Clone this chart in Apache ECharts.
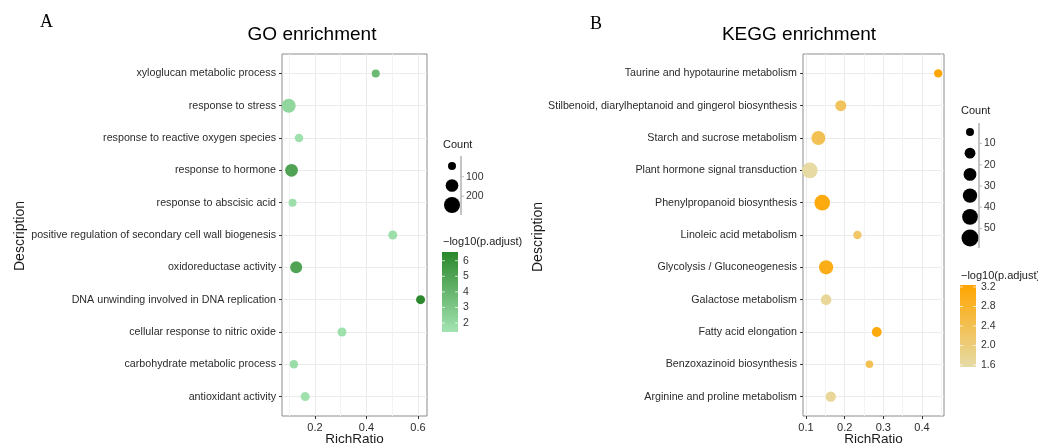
<!DOCTYPE html>
<html>
<head>
<meta charset="utf-8">
<script src="https://cdn.jsdelivr.net/npm/echarts@6/dist/echarts.min.js"></script>
<style>
html,body{margin:0;padding:0;background:#fff;}
#main{width:1038px;height:446px;}
</style>
</head>
<body>
<div id="main"></div>
<script>
// GO enrichment (top to bottom)
var goTerms = ['xyloglucan metabolic process','response to stress','response to reactive oxygen species',
  'response to hormone','response to abscisic acid','positive regulation of secondary cell wall biogenesis',
  'oxidoreductase activity','DNA unwinding involved in DNA replication','cellular response to nitric oxide',
  'carbohydrate metabolic process','antioxidant activity'];
var goRatio = [0.436, 0.098, 0.138, 0.109, 0.113, 0.502, 0.127, 0.610, 0.305, 0.118, 0.162];
var goCount = [50, 186, 58, 149, 50, 67, 131, 67, 67, 58, 67];
var goPadj = [3.8, 2.2, 1.6, 5.0, 1.7, 1.7, 5.0, 6.5, 1.6, 1.8, 1.6];
var goXTicks = [0.2, 0.4, 0.6];
var goXMinor = [0.1, 0.3, 0.5];
var goColorTicks = [2, 3, 4, 5, 6];
var goColorRange = [1.42, 6.56];
var goSizeBreaks = [100, 200];
var goSizeKeys = [50, 150, 250];

// KEGG enrichment (top to bottom)
var keggTerms = ['Taurine and hypotaurine metabolism','Stilbenoid, diarylheptanoid and gingerol biosynthesis',
  'Starch and sucrose metabolism','Plant hormone signal transduction','Phenylpropanoid biosynthesis',
  'Linoleic acid metabolism','Glycolysis / Gluconeogenesis','Galactose metabolism','Fatty acid elongation',
  'Benzoxazinoid biosynthesis','Arginine and proline metabolism'];
var keggRatio = [0.442, 0.190, 0.132, 0.110, 0.142, 0.233, 0.152, 0.152, 0.283, 0.264, 0.164];
var keggCount = [6, 16, 32, 44, 44, 6, 34, 14, 11, 4, 13];
var keggPadj = [3.2, 2.3, 2.4, 1.6, 3.1, 2.2, 3.0, 1.7, 3.1, 2.4, 1.7];
var keggXTicks = [0.1, 0.2, 0.3, 0.4];
var keggXMinor = [0.15, 0.25, 0.35, 0.45];
var keggColorTicks = [1.6, 2.0, 2.4, 2.8, 3.2];
var keggColorRange = [1.56, 3.24];
var keggSizeBreaks = [10, 20, 30, 40, 50];
var keggSizeKeys = [5, 15, 25, 35, 45, 55];

var idx = goTerms.map(function(t, i){ return i; });

var goLow = '#a3e4b2', goHigh = '#2a872a';
var keggLow = '#e6dba6', keggHigh = '#ffa500';
var font = 'Liberation Sans, Arial, sans-serif';

function goSize(c){ return 1.53 + 0.915 * Math.sqrt(c); }
function keggSize(c){ return 4.1 + 1.74 * Math.sqrt(c); }

var goData = goTerms.map(function(t, i){ return [goRatio[i], i, goPadj[i], goCount[i], t]; });
var keggData = keggTerms.map(function(t, i){ return [keggRatio[i], i, keggPadj[i], keggCount[i], t]; });

function yAxisOf(grid, terms){
  return {
    type: 'value', gridIndex: grid, min: -0.6, max: terms.length - 0.4, inverse: true,
    axisLine: {show: false, onZero: false},
    axisTick: {show: true, length: 3, customValues: idx, lineStyle: {color: '#333'}},
    axisLabel: {customValues: idx, margin: 6, fontSize: 10.7, color: '#2b2b2b', fontFamily: font,
      formatter: function(v){ return terms[Math.round(v)]; }},
    splitLine: {show: true, lineStyle: {color: '#ebebeb', width: 1}}
  };
}
function xMajor(grid, min, max, ticks){
  return {
    type: 'value', gridIndex: grid, min: min, max: max, position: 'bottom',
    axisLine: {show: false, onZero: false},
    axisTick: {show: true, length: 3, customValues: ticks, lineStyle: {color: '#333'}},
    axisLabel: {customValues: ticks, margin: 6, fontSize: 11, color: '#2b2b2b', fontFamily: font},
    splitLine: {show: true, lineStyle: {color: '#ebebeb', width: 1}}
  };
}
function xMinor(grid, min, max, ticks){
  return {
    type: 'value', gridIndex: grid, min: min, max: max, position: 'top',
    axisLine: {show: false, onZero: false}, axisLabel: {show: false},
    axisTick: {show: false, customValues: ticks},
    splitLine: {show: true, lineStyle: {color: '#f3f3f3', width: 1}}
  };
}

// titles and legends drawn as graphics
var g = [];
function txt(x, y, s, size, opts){
  var o = {type: 'text', x: x, y: y, style: {text: s, fontSize: size, fill: '#1a1a1a', fontFamily: font,
    textAlign: 'left', textVerticalAlign: 'middle'}};
  for (var k in opts) o.style[k] = opts[k];
  return o;
}
g.push(txt(40, 22, 'A', 18, {fontFamily: 'Liberation Serif, serif', fill: '#000'}));
g.push(txt(590, 24, 'B', 18, {fontFamily: 'Liberation Serif, serif', fill: '#000'}));
g.push(txt(312, 35, 'GO enrichment', 19, {textAlign: 'center', fill: '#000'}));
g.push(txt(799, 35, 'KEGG enrichment', 19, {textAlign: 'center', fill: '#000'}));
g.push(txt(354.5, 439, 'RichRatio', 13.5, {textAlign: 'center'}));
g.push(txt(873.5, 439, 'RichRatio', 13.5, {textAlign: 'center'}));
g.push({type: 'text', x: 20, y: 236, rotation: Math.PI / 2,
  style: {text: 'Description', fontSize: 14, fill: '#1a1a1a', fontFamily: font, textAlign: 'center', textVerticalAlign: 'middle'}});
g.push({type: 'text', x: 538, y: 237, rotation: Math.PI / 2,
  style: {text: 'Description', fontSize: 14, fill: '#1a1a1a', fontFamily: font, textAlign: 'center', textVerticalAlign: 'middle'}});

function sizeLegend(x0, yTitle, y0, step, keys, breaks, sizeFn, lineX, lineTop, lineBot){
  g.push(txt(x0 - 9, yTitle, 'Count', 11));
  keys.forEach(function(c, i){
    var d = sizeFn(c);
    g.push({type: 'circle', shape: {cx: x0, cy: y0 + i * step, r: d / 2}, style: {fill: '#000'}});
  });
  g.push({type: 'line', shape: {x1: lineX, y1: lineTop, x2: lineX, y2: lineBot}, style: {stroke: '#8a8a8a', lineWidth: 1}});
  breaks.forEach(function(b, i){
    var y = y0 + (i + 0.5) * step + 1;
    g.push({type: 'line', shape: {x1: lineX, y1: y, x2: lineX + 3, y2: y}, style: {stroke: '#bbb', lineWidth: 1}});
    g.push(txt(lineX + 5, y, String(b), 10.5, {fill: '#333'}));
  });
}
sizeLegend(452, 145, 166, 19.5, goSizeKeys, goSizeBreaks, goSize, 461, 156, 215);
sizeLegend(970, 111, 132, 21.2, keggSizeKeys, keggSizeBreaks, keggSize, 979, 123, 248);

function colorBar(x, top, h, range, ticks, low, high, titleY, decimals){
  g.push(txt(x + 1, titleY, '\u2212log10(p.adjust)', 11));
  g.push({type: 'rect', shape: {x: x, y: top, width: 16, height: h},
    style: {fill: new echarts.graphic.LinearGradient(0, 0, 0, 1, [{offset: 0, color: high}, {offset: 1, color: low}])}});
  ticks.forEach(function(v){
    var y = top + h - (v - range[0]) / (range[1] - range[0]) * h;
    g.push({type: 'line', shape: {x1: x, y1: y, x2: x + 3, y2: y}, style: {stroke: 'rgba(255,255,255,0.7)', lineWidth: 1}});
    g.push({type: 'line', shape: {x1: x + 13, y1: y, x2: x + 16, y2: y}, style: {stroke: 'rgba(255,255,255,0.7)', lineWidth: 1}});
    g.push(txt(x + 21, y, v.toFixed(decimals), 10.5, {fill: '#333'}));
  });
}
colorBar(442, 252, 80, goColorRange, goColorTicks, goLow, goHigh, 242, 0);
colorBar(960, 285, 82, keggColorRange, keggColorTicks, keggLow, keggHigh, 276, 1);

var chart = echarts.init(document.getElementById('main'));
var option = {
  backgroundColor: '#fff',
  animation: false,
  grid: [
    {left: 282, top: 54, width: 145, height: 362, show: true, borderColor: '#8c8c8c', borderWidth: 1,
      backgroundColor: '#fff', outerBoundsMode: 'none', containLabel: false},
    {left: 803, top: 54, width: 141, height: 362, show: true, borderColor: '#8c8c8c', borderWidth: 1,
      backgroundColor: '#fff', outerBoundsMode: 'none', containLabel: false}
  ],
  xAxis: [
    xMajor(0, 0.072, 0.635, goXTicks),
    xMinor(0, 0.072, 0.635, goXMinor),
    xMajor(1, 0.0922, 0.457, keggXTicks),
    xMinor(1, 0.0922, 0.457, keggXMinor)
  ],
  yAxis: [yAxisOf(0, goTerms), yAxisOf(1, keggTerms)],
  visualMap: [
    {type: 'continuous', show: false, seriesIndex: 0, dimension: 2, min: goColorRange[0], max: goColorRange[1],
      inRange: {color: [goLow, goHigh]}},
    {type: 'continuous', show: false, seriesIndex: 1, dimension: 2, min: keggColorRange[0], max: keggColorRange[1],
      inRange: {color: [keggLow, keggHigh]}}
  ],
  series: [
    {type: 'scatter', xAxisIndex: 0, yAxisIndex: 0, data: goData,
      symbolSize: function(d){ return goSize(d[3]); }, itemStyle: {opacity: 1}},
    {type: 'scatter', xAxisIndex: 2, yAxisIndex: 1, data: keggData,
      symbolSize: function(d){ return keggSize(d[3]); }, itemStyle: {opacity: 1}}
  ],
  graphic: g
};
chart.setOption(option);
</script>
</body>
</html>
